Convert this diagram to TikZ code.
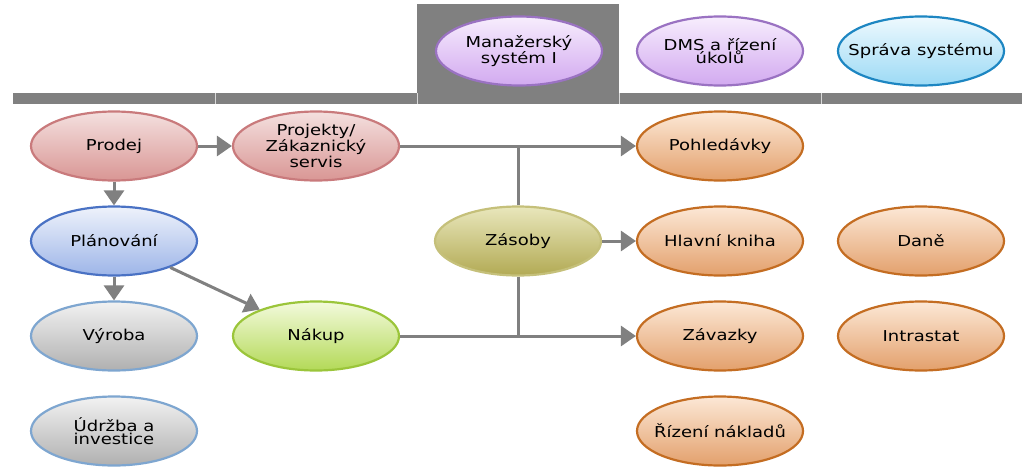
\documentclass[tikz,border=0pt]{standalone}
\usepackage{fontspec}
\setmainfont{DejaVu Sans}[FakeStretch=1.2]
\usetikzlibrary{shapes.geometric,arrows.meta}
\definecolor{lineg}{HTML}{808080}
\definecolor{barg}{HTML}{808080}
\definecolor{redT}{HTML}{F4E0DF}\definecolor{redB}{HTML}{D99694}\definecolor{redD}{HTML}{C97A7C}
\definecolor{bluT}{HTML}{EEF2FB}\definecolor{bluB}{HTML}{9DB5E8}\definecolor{bluD}{HTML}{4A72C4}
\definecolor{gryT}{HTML}{F2F2F2}\definecolor{gryB}{HTML}{B0B0B0}\definecolor{gryD}{HTML}{7EA6D0}
\definecolor{grnT}{HTML}{F3FADC}\definecolor{grnB}{HTML}{B3D957}\definecolor{grnD}{HTML}{9BC53A}
\definecolor{olvT}{HTML}{E9E7BC}\definecolor{olvB}{HTML}{B2AA54}\definecolor{olvD}{HTML}{C5C07A}
\definecolor{orgT}{HTML}{FCE8D6}\definecolor{orgB}{HTML}{E3A06C}\definecolor{orgD}{HTML}{C46D22}
\definecolor{purT}{HTML}{F7EEFD}\definecolor{purB}{HTML}{D2A9F0}\definecolor{purD}{HTML}{9A72C2}
\definecolor{cyaT}{HTML}{EEF9FE}\definecolor{cyaB}{HTML}{9CDAF5}\definecolor{cyaD}{HTML}{1D86C2}
\tikzset{
  oval/.style={ellipse, minimum width=166pt, minimum height=69pt, inner xsep=-40pt, inner ysep=0pt,
    line width=2.2pt, align=center, font=\fontsize{15}{13}\selectfont},
  redo/.style={oval, draw=redD, top color=redT, bottom color=redB},
  bluo/.style={oval, draw=bluD, top color=bluT, bottom color=bluB},
  gryo/.style={oval, draw=gryD, top color=gryT, bottom color=gryB},
  grno/.style={oval, draw=grnD, top color=grnT, bottom color=grnB},
  olvo/.style={oval, draw=olvD, top color=olvT, bottom color=olvB},
  orgo/.style={oval, draw=orgD, top color=orgT, bottom color=orgB},
  puro/.style={oval, draw=purD, top color=purT, bottom color=purB},
  cyao/.style={oval, draw=cyaD, top color=cyaT, bottom color=cyaB},
  conn/.style={draw=lineg, line width=3pt},
  arr/.style={conn, -{Triangle[length=15pt,width=20pt]}},
}
\begin{document}
\begin{tikzpicture}[x=1pt,y=-1pt]
\useasboundingbox (0,0) rectangle (1024,471);
\fill[white] (0,0) rectangle (1024,471);
% header bar and box
\fill[barg] (417,4) rectangle (619,104);
\fill[barg] (13,93) rectangle (1022,104);
\foreach \s in {215,417,619,821}
  \draw[white!70!barg, line width=0.8pt] (\s,93) -- (\s,104);
% top nodes
\node[puro] (man) at (519,51) {Manažerský\\systém I};
\node[puro] (dms) at (720,51) {DMS a řízení\\úkolů};
\node[cyao] (spr) at (921,51) {Správa systému};
% main nodes
\node[redo] (prodej) at (114,146) {Prodej};
\node[redo] (proj) at (316,146) {Projekty/\\Zákaznický\\servis};
\node[bluo] (plan) at (114,241) {Plánování};
\node[gryo] (vyr) at (114,336) {Výroba};
\node[gryo] (udr) at (114,431) {Údržba a\\investice};
\node[grno] (nak) at (316,336) {Nákup};
\node[olvo] (zas) at (518,241) {Zásoby};
\node[orgo] (pohl) at (720,146) {Pohledávky};
\node[orgo] (hk) at (720,241) {Hlavní kniha};
\node[orgo] (zav) at (720,336) {Závazky};
\node[orgo] (rn) at (720,431) {Řízení nákladů};
\node[orgo] (dan) at (921,241) {Daně};
\node[orgo] (intr) at (921,336) {Intrastat};
% connectors
\draw[arr] (prodej) -- (proj);
\draw[arr] (prodej) -- (plan);
\draw[arr] (plan) -- (vyr);
\draw[arr] (plan) -- (nak);
\draw[arr] (proj) -- (pohl);
\draw[arr] (nak) -- (zav);
\draw[arr] (zas) -- (hk);
\draw[conn] (zas.north) -- (zas.north |- proj);
\draw[conn] (zas.south) -- (zas.south |- nak);
\end{tikzpicture}
\end{document}
